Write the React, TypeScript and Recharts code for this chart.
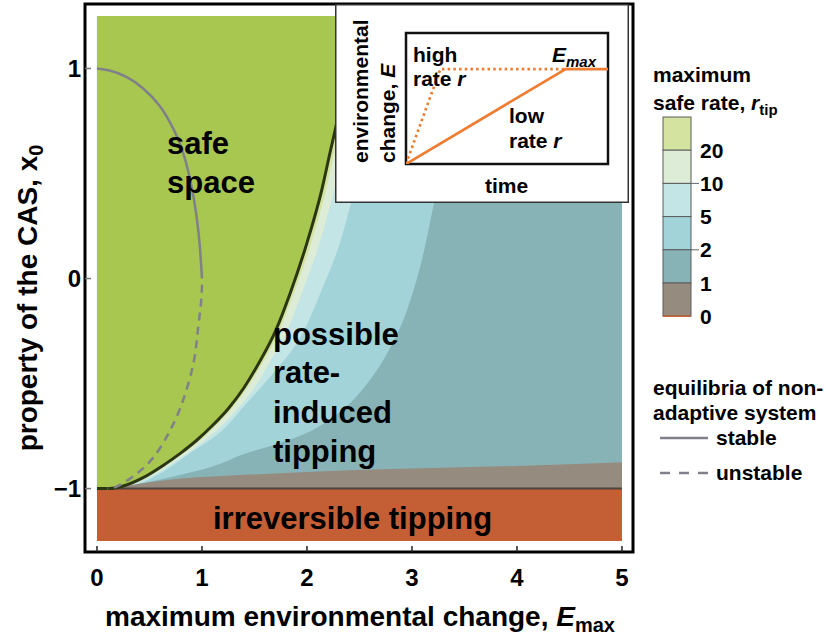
import React from "react"
import {
  ComposedChart,
  LineChart,
  Area,
  Line,
  XAxis,
  YAxis,
  ReferenceArea
} from "recharts"

const FONT = "'Liberation Sans', Arial, Helvetica, sans-serif"

// axis ticks
const eTicks = [0, 1, 2, 3, 4, 5]
const x0Ticks = [-1, 0, 1]

// extent of the computed grid
const E_MIN = 0
const E_MAX = 5
const X0_TOP = 1.25
const X0_TIP = -1
const X0_BOTTOM = -1.25

// edge of the safe space, [E_max, x0]
const safeEdge: [number, number][] = [
  [0, -1], [0.12, -1], [0.25, -0.988], [0.44, -0.948], [0.63, -0.89], [0.8, -0.83],
  [0.95, -0.77], [1.1, -0.7], [1.25, -0.62], [1.4, -0.52], [1.55, -0.395], [1.7, -0.25],
  [1.84, -0.07], [2.0, 0.17], [2.14, 0.42], [2.22, 0.6], [2.27, 0.71], [2.38, 1.0], [2.48, 1.25]
]

// outer edges of the r_tip bands (r > 20, 10-20, 5-10, 2-5), [E_max, x0]
const edge20: [number, number][] = [
  [0, -1], [0.12, -1], [0.27, -0.988], [0.46, -0.948], [0.65, -0.89], [0.825, -0.83],
  [0.98, -0.77], [1.13, -0.7], [1.28, -0.62], [1.43, -0.52], [1.585, -0.395], [1.735, -0.25],
  [1.875, -0.07], [2.04, 0.17], [2.18, 0.42], [2.26, 0.6], [2.31, 0.71], [2.42, 1.0], [2.52, 1.25]
]
const edge10: [number, number][] = [
  [0, -1], [0.12, -1], [0.29, -0.988], [0.49, -0.948], [0.69, -0.89], [0.87, -0.83],
  [1.03, -0.77], [1.19, -0.7], [1.34, -0.62], [1.5, -0.52], [1.65, -0.395], [1.81, -0.25],
  [1.95, -0.07], [2.12, 0.17], [2.26, 0.42], [2.35, 0.6], [2.4, 0.71], [2.52, 1.0], [2.62, 1.25]
]
const edge5: [number, number][] = [
  [0, -1], [0.12, -1], [0.35, -0.985], [0.6, -0.93], [0.89, -0.83], [1.2, -0.72],
  [1.45, -0.58], [1.68, -0.45], [1.97, -0.25], [2.14, -0.055], [2.32, 0.18],
  [2.42, 0.36], [2.62, 0.75], [2.8, 1.25]
]
const edge2: [number, number][] = [
  [0, -1], [0.12, -1], [0.48, -0.97], [0.79, -0.935], [1.1, -0.895], [1.4, -0.835],
  [1.7, -0.79], [2.13, -0.7], [2.51, -0.54], [2.77, -0.35], [2.96, -0.14],
  [3.1, 0.1], [3.21, 0.36], [3.4, 0.8], [3.55, 1.25]
]
// top of the r_tip < 1 band
const edge1: [number, number][] = [
  [0.12, -1], [0.3, -0.985], [0.5, -0.97], [0.8, -0.952], [1.2, -0.94], [1.7, -0.928],
  [2.4, -0.913], [3.2, -0.902], [4.0, -0.892], [5.0, -0.875]
]

// equilibria of the non-adaptive system
const stableBranch: [number, number][] = [
  [0, 1], [0.12, 0.99], [0.28, 0.96], [0.44, 0.905], [0.6, 0.82], [0.73, 0.71],
  [0.82, 0.6], [0.9, 0.44], [0.95, 0.29], [0.98, 0.15], [1.0, 0]
]
const unstableBranch: [number, number][] = [
  [1.0, -0.03], [0.99, -0.12], [0.96, -0.25], [0.92, -0.4], [0.82, -0.58],
  [0.7, -0.72], [0.54, -0.85], [0.35, -0.94], [0.19, -0.99], [0.1, -1.0]
]

// inset: E(t) for a high and a low rate
const highRate: [number, number][] = [[0, 0], [0.17, 0.725], [0.79, 0.725]]
const lowRate: [number, number][] = [[0, 0], [0.79, 0.725], [1, 0.725]]

const rateLabels = ["20", "10", "5", "2", "1", "0"]

const COLORS = {
  safe: "#a8c750",
  r20: "#d5e3a1",
  r10: "#dcecd6",
  r5: "#c3e5e5",
  r2: "#a1d3d9",
  r1: "#87b3b6",
  r0: "#958b7e",
  irreversible: "#c45e35",
  edge: "#2b3713",
  tipLine: "#4d4540",
  equilibrium: "#80808a",
  ramp: "#ef7d31"
}
const bandColors = [COLORS.r20, COLORS.r10, COLORS.r5, COLORS.r2, COLORS.r1, COLORS.r0]

const above = (edge: [number, number][]) => edge.map(([E, x0]) => ({ E, v: [x0, X0_TOP] }))
const pts = (arr: [number, number][]) => arr.map(([E, x0]) => ({ E, x0 }))

const tealData = above([[E_MIN, X0_TIP], [E_MAX, X0_TIP]])
const grayData = edge1.map(([E, x0]) => ({ E, v: [X0_TIP, x0] }))
const orangeData = [E_MIN, E_MAX].map((E) => ({ E, v: [X0_BOTTOM, X0_TIP] }))
const tipLineData = [E_MIN, E_MAX].map((E) => ({ E, x0: X0_TIP }))

const tickStyle = { fontSize: 24, fontWeight: 700, fill: "#000", fontFamily: FONT }

function Inset() {
  return (
    <div style={{ position: "absolute", left: 335, top: 4, width: 294, height: 199, background: "#fff" }}>
      <LineChart width={294} height={199} margin={{ top: 29, right: 21, bottom: 39, left: 71 }}>
        <XAxis type="number" dataKey="t" domain={[0, 1]} hide allowDataOverflow />
        <YAxis type="number" domain={[0, 1]} hide allowDataOverflow />
        <ReferenceArea x1={0} x2={1} y1={0} y2={1} fill="none" stroke="#111" strokeWidth={2.5} />
        <Line
          data={highRate.map(([t, E]) => ({ t, E }))}
          dataKey="E"
          type="linear"
          stroke={COLORS.ramp}
          strokeWidth={2.7}
          strokeDasharray="2.5 3.2"
          dot={false}
          isAnimationActive={false}
        />
        <Line
          data={lowRate.map(([t, E]) => ({ t, E }))}
          dataKey="E"
          type="linear"
          stroke={COLORS.ramp}
          strokeWidth={2.7}
          dot={false}
          isAnimationActive={false}
        />
      </LineChart>
      <svg width={294} height={199} style={{ position: "absolute", left: 0, top: 0 }}
        fontFamily={FONT} fontWeight={700} fontSize={21}>
        <rect x={0.75} y={0.75} width={292.5} height={197.5} fill="none" stroke="#333" strokeWidth={1.5} />
        <text transform="translate(33,159) rotate(-90)">environmental</text>
        <text transform="translate(60,159) rotate(-90)">change, <tspan fontStyle="italic">E</tspan></text>
        <text x={78} y={58}>high</text>
        <text x={78} y={82}>rate <tspan fontStyle="italic">r</tspan></text>
        <text x={217} y={58}><tspan fontStyle="italic">E</tspan><tspan fontStyle="italic" fontSize={15} dy={5}>max</tspan></text>
        <text x={174} y={119}>low</text>
        <text x={174} y={144}>rate <tspan fontStyle="italic">r</tspan></text>
        <text x={150} y={189}>time</text>
      </svg>
    </div>
  )
}

export default function App() {
  return (
    <div style={{ position: "absolute", left: 0, top: 0, width: 826, height: 636, background: "#fff" }}>
      <div style={{ position: "absolute", left: 0, top: 0 }}>
        <ComposedChart width={826} height={636} margin={{ top: 4, right: 193, bottom: 44, left: 25 }}>
          <XAxis
            type="number"
            dataKey="E"
            domain={[-0.114, 5.105]}
            allowDataOverflow
            ticks={eTicks}
            interval={0}
            height={40}
            axisLine={false}
            tickSize={-6}
            tickMargin={23}
            tickLine={{ stroke: "#222", strokeWidth: 1.5 }}
            tick={tickStyle}
          />
          <YAxis
            type="number"
            domain={[-1.302, 1.307]}
            allowDataOverflow
            ticks={x0Ticks}
            interval={0}
            width={60}
            axisLine={false}
            tickSize={-6}
            tickMargin={10}
            tickLine={{ stroke: "#777", strokeWidth: 1.5 }}
            tick={tickStyle}
            tickFormatter={(v: number) => (v < 0 ? "\u2212" + Math.abs(v) : String(v))}
          />
          <Area data={tealData} dataKey="v" type="linear" fill={COLORS.r1} fillOpacity={1} stroke="none" isAnimationActive={false} />
          <Area data={above(edge2)} dataKey="v" type="monotone" fill={COLORS.r2} fillOpacity={1} stroke="none" isAnimationActive={false} />
          <Area data={above(edge5)} dataKey="v" type="monotone" fill={COLORS.r5} fillOpacity={1} stroke="none" isAnimationActive={false} />
          <Area data={above(edge10)} dataKey="v" type="monotone" fill={COLORS.r10} fillOpacity={1} stroke="none" isAnimationActive={false} />
          <Area data={above(edge20)} dataKey="v" type="monotone" fill={COLORS.r20} fillOpacity={1} stroke="none" isAnimationActive={false} />
          <Area data={grayData} dataKey="v" type="monotone" fill={COLORS.r0} fillOpacity={1} stroke="none" isAnimationActive={false} />
          <Area data={above(safeEdge)} dataKey="v" type="monotone" fill={COLORS.safe} fillOpacity={1} stroke="none" isAnimationActive={false} />
          <Area data={orangeData} dataKey="v" type="linear" fill={COLORS.irreversible} fillOpacity={1} stroke="none" isAnimationActive={false} />
          <Line data={tipLineData} dataKey="x0" type="linear" stroke={COLORS.tipLine} strokeWidth={2} dot={false} isAnimationActive={false} />
          <Line data={pts(safeEdge)} dataKey="x0" type="monotone" stroke={COLORS.edge} strokeWidth={3} dot={false} isAnimationActive={false} />
          <Line data={pts(stableBranch)} dataKey="x0" type="natural" stroke={COLORS.equilibrium} strokeWidth={2.5} dot={false} isAnimationActive={false} />
          <Line data={pts(unstableBranch)} dataKey="x0" type="natural" stroke={COLORS.equilibrium} strokeWidth={2.5} strokeDasharray="8 6" dot={false} isAnimationActive={false} />
          <ReferenceArea x1={-0.114} x2={5.105} y1={-1.302} y2={1.307} fill="none" stroke="#000" strokeWidth={3} />
        </ComposedChart>
      </div>

      <svg width={826} height={636} style={{ position: "absolute", left: 0, top: 0, pointerEvents: "none" }}
        fontFamily={FONT} fontWeight={700}>
        <g fontSize={31} fill="#000">
          <text x={167} y={154}>safe</text>
          <text x={167} y={193}>space</text>
          <text x={273} y={345}>possible</text>
          <text x={273} y={383}>rate-</text>
          <text x={273} y={423}>induced</text>
          <text x={273} y={462}>tipping</text>
          <text x={213} y={529}>irreversible tipping</text>
        </g>
        <text x={105} y={626} fontSize={28}>
          maximum environmental change, <tspan fontStyle="italic">E</tspan><tspan fontSize={20} dy={6}>max</tspan>
        </text>
        <text transform="translate(37,298) rotate(-90)" textAnchor="middle" fontSize={28}>
          property of the CAS, x<tspan fontSize={20} dy={6}>0</tspan>
        </text>

        <g fontSize={21}>
          <text x={653} y={82}>maximum</text>
          <text x={653} y={110}>safe rate, <tspan fontStyle="italic">r</tspan><tspan fontSize={15} dy={5}>tip</tspan></text>
          {bandColors.map((c, i) => (
            <rect key={c} x={663} y={117 + i * 33.2} width={28} height={33.2} fill={c} stroke="#5d5d5d" strokeWidth={1} />
          ))}
          <line x1={663} x2={691} y1={316.2} y2={316.2} stroke={COLORS.irreversible} strokeWidth={1.5} />
          {[1, 3].map((i) => (
            <line key={i} x1={691} x2={699} y1={117 + (i + 1) * 33.2} y2={117 + (i + 1) * 33.2} stroke="#666" strokeWidth={1} />
          ))}
          {rateLabels.map((l, i) => (
            <text key={l} x={700} y={117 + (i + 1) * 33.2 + 7.5}>{l}</text>
          ))}
          <text x={653} y={395}>equilibria of non-</text>
          <text x={653} y={420}>adaptive system</text>
          <line x1={660} x2={708} y1={438} y2={438} stroke={COLORS.equilibrium} strokeWidth={2.5} />
          <text x={716} y={445}>stable</text>
          <line x1={660} x2={708} y1={473} y2={473} stroke={COLORS.equilibrium} strokeWidth={2.5} strokeDasharray="10 9" />
          <text x={716} y={480}>unstable</text>
        </g>
      </svg>

      <Inset />
    </div>
  )
}
